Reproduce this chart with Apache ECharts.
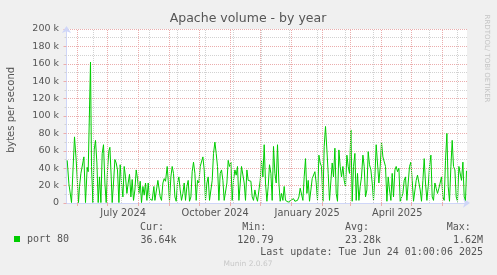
<!DOCTYPE html>
<html><head><meta charset="utf-8">
<script src="https://cdn.jsdelivr.net/npm/echarts@6/dist/echarts.min.js"></script>
<style>html,body{margin:0;padding:0;background:#F0F0F0}#c{width:497px;height:275px}</style>
</head><body><div id="c"></div>
<script>
// ---------- data ----------
const chartTitle = 'Apache volume - by year';
const yAxisTitle = 'bytes per second';
const seriesName = 'port 80';
const startDate = '2024-05-21';          // day 0 of the offsets below
const rangeDays = [-0.5, 400.5];          // visible time window (days from startDate)
// sample times, days since startDate
const dayOffsets = [
 0.7,2.4,5,6.4,8,9.7,10.7,12,13,14.4,15.7,17.4,18.4,19,20.7,21.7,23,24,25,26.4,27.7,29,30.4,31.7,33,34.4,35.7,37,38.4,39.7,
 41,42.4,43.4,44.7,45.7,47,48.4,49.7,51,52.4,53.7,55,56.4,57.7,59,60.4,61.7,63,64.4,65.7,67,68.4,69.7,71,72.4,73.7,75,76.4,77.7,79,
 80.4,81.7,83,84.4,85.7,87.4,88.4,89.7,91.4,92.4,93.7,95,96.4,97.7,99,100.7,101.7,103,104.4,105.7,107,108.4,109.7,111,112.4,113.7,115,116.4,117.7,119,
 120.4,121.7,123,124.4,125.7,127,128.4,129.7,131,132.4,133.7,135,136.4,137.7,139,140.4,141.7,143,144.4,145.7,147,148.4,149.7,151,152.4,153.7,155,156.4,157.7,
 159,160.4,161.7,163,164.4,165.7,167,168.4,169.7,171,172.4,173.7,175,176.4,177.7,179,180.4,181.7,183,184.4,185.7,187,188.4,189.7,191,192.4,193.7,195,196.4,197.7,
 199,200.4,201.7,203,204.4,205.7,207,208.4,209.7,211,212.4,213.7,215,216.4,217.7,219,220.4,221.7,223,224.4,225.7,227,228.4,229.7,231,232.4,233.7,235,236.4,237.7,
 239,240.4,241.7,243,244.4,245.7,247,248.4,249.7,251,252.4,253.7,255,256.4,257.7,259,260.4,261.7,263,264.4,265.7,267,268.4,269.7,271,272.4,273.7,275,276.4,277.7,
 279,280.4,281.7,283,284.4,285.7,287,288.4,289.7,291,292.4,293.7,295,296.4,297.7,299,300.4,301.7,303,304.4,305.7,307,308.4,309.7,311,312.4,313.7,315,316.4,
 317.4,319,320.4,321.7,323,324.4,325.7,327,328.4,329.7,331,332.4,333.7,335,336.4,337.7,339,340.4,341.7,343,344.4,345.7,347,348.4,349.7,351,352.4,353.7,355,356.4,
 357.7,359,360.4,361.7,363,364.4,365.7,367,368.4,369.7,371,372.4,373.7,375,376.4,377.7,379,380.4,381.7,383,384.4,385.7,387,388.4,389.7,391,392.4,393.7,395,396.4,
 397.7,399,400
];
// bytes per second, in thousands
const port80K = [
 49,22,0.5,0.5,76,49,49,0.5,19,34,36,53,55,0.5,41,36,38,162,42,0.5,61,72,46,0.5,30,0.5,57,67,23,0.5,
 38,60,64,30,0.5,23,50,46,38,0.5,44,23,7,42,30,11,23,33,7,27,3,15,38,28,11,25,0.5,19,9,23,
 3,23,5,7,3,19,3,2,26,28,7,3,23,28,25,42,26,2,30,42,34,7,2,23,30,15,3,11,23,3,
 19,26,2,7,36,47,34,3,26,23,42,40,53,38,3,23,30,3,2,26,57,70,57,42,3,34,38,26,3,
 2,23,49,42,47,3,26,38,32,42,3,2,42,44,23,3,38,26,28,25,7,3,15,7,2,3,26,49,30,67,
 23,2,19,44,34,3,65,34,23,67,23,2,11,3,19,3,2,1,2,3,2,5,2,2,3,7,17,15,3,30,
 51,11,26,2,15,28,26,36,23,3,55,46,42,2,65,88,61,34,3,2,46,30,63,11,2,61,42,30,42,26,
 19,55,42,34,84,2,42,57,3,34,3,19,30,55,42,7,15,59,44,38,23,3,30,67,65,23,42,70,53,
 51,42,2,30,15,3,34,7,38,42,36,40,2,3,11,26,30,3,23,42,47,26,2,3,26,32,30,15,2,26,
 51,23,3,19,42,55,7,3,23,17,11,17,15,30,7,3,49,80,19,2,42,72,42,38,7,2,42,40,26,47,
 7,3,37
];
const yMax = 200, yStep = 20;
const monthLabels = [['2024-07-01','July 2024'],['2024-10-01','October 2024'],['2025-01-01','January 2025'],['2025-04-01','April 2025']];
const monthStarts = ['2024-06-01','2024-07-01','2024-08-01','2024-09-01','2024-10-01','2024-11-01','2024-12-01','2025-01-01','2025-02-01','2025-03-01','2025-04-01','2025-05-01','2025-06-01'];
const weekGridStart = '2024-06-17', weekGridEvery = 28;
const statHeads = ['Cur:','Min:','Avg:','Max:'];
const statValues = ['36.64k','120.79','23.28k','1.62M'];
const lastUpdate = 'Last update: Tue Jun 24 01:00:06 2025';
const footer = 'Munin 2.0.67';
const sideText = 'RRDTOOL/ TOBI OETIKER';

// ---------- helpers ----------
const DAY = 86400000;
const dayOf = s => (Date.parse(s + 'T00:00:00Z') - Date.parse(startDate + 'T00:00:00Z')) / DAY;
const monthDays = monthStarts.map(dayOf);
const weekDays = [];
for (let d = dayOf(weekGridStart); d < rangeDays[1]; d += weekGridEvery) weekDays.push(d);
const labelPos = monthLabels.map(m => dayOf(m[0]) + 15.7);
const labelText = {};
labelPos.forEach((p, i) => labelText[p.toFixed(2)] = monthLabels[i][1]);

const FONT = '"DejaVu Sans", sans-serif';
const MONO = '"DejaVu Sans Mono", monospace';
const TXT = '#555555';
const MGRID = '#ebadad';
const GRID = '#d2d2d2';
const AXIS = '#CFD6F8';

const chart = echarts.init(document.getElementById('c'), null, {renderer: 'canvas'});
const gridLines = [];
weekDays.forEach(d => gridLines.push({xAxis: d, lineStyle: {color: GRID, type: [1, 1], width: 1}}));
monthDays.forEach(d => gridLines.push({xAxis: d, lineStyle: {color: MGRID, type: [1, 1], width: 1}}));

const graphics = [
  {type: 'text', x: 248, y: 19, style: {text: chartTitle, font: '12.5px ' + FONT, fill: TXT, align: 'center', verticalAlign: 'middle'}},
  {type: 'text', x: 11, y: 110, rotation: Math.PI / 2, style: {text: yAxisTitle, font: '10px ' + FONT, fill: TXT, align: 'center', verticalAlign: 'middle'}},
  {type: 'text', x: 486.5, y: 58.5, rotation: -Math.PI / 2, style: {text: sideText, font: '7px ' + FONT, fill: '#c4c4c4', align: 'center', verticalAlign: 'middle'}},
  {type: 'text', x: 248, y: 264, style: {text: footer, font: '7.5px ' + FONT, fill: '#c8c8c8', align: 'center', verticalAlign: 'middle'}},
  {type: 'text', x: 483, y: 252, style: {text: lastUpdate, font: '10px ' + MONO, fill: TXT, align: 'right', verticalAlign: 'middle'}}
];
const headX = [140, 242.3, 345, 446.7];
statHeads.forEach((t, i) => graphics.push({type: 'text', x: headX[i], y: 227.5, style: {text: t, font: '10px ' + MONO, fill: TXT, align: 'left', verticalAlign: 'middle'}}));
const valX = [140.5, 237.3, 345, 483];
const valAlign = ['left', 'left', 'left', 'right'];
statValues.forEach((t, i) => graphics.push({type: 'text', x: valX[i], y: 240, style: {text: t, font: '10px ' + MONO, fill: TXT, align: valAlign[i], verticalAlign: 'middle'}}));

chart.setOption({
  animation: false,
  backgroundColor: '#F0F0F0',
  grid: {left: 66, top: 29, width: 401, height: 174, show: true, backgroundColor: '#FFFFFF', borderWidth: 0, containLabel: false, outerBoundsMode: 'none'},
  legend: {
    data: [{name: seriesName, icon: 'rect'}], left: 14, top: 234, itemWidth: 6, itemHeight: 6, padding: 0,
    textStyle: {fontFamily: MONO, fontSize: 10, color: TXT, padding: [0, 0, 0, 2]}
  },
  xAxis: {
    type: 'value', min: rangeDays[0], max: rangeDays[1],
    axisLine: {show: true, lineStyle: {color: AXIS, width: 1}, symbol: ['none', 'arrow'], symbolSize: [7, 7], symbolOffset: [0, 3]},
    axisTick: {show: true, customValues: monthDays, length: 3, lineStyle: {color: MGRID}},
    axisLabel: {
      customValues: labelPos, margin: 5, color: TXT, fontFamily: FONT, fontSize: 9.8,
      formatter: v => labelText[v.toFixed(2)] || ''
    },
    splitLine: {show: false}
  },
  yAxis: {
    type: 'value', min: 0, max: yMax, interval: yStep,
    axisLine: {show: true, lineStyle: {color: AXIS, width: 1}, symbol: ['none', 'arrow'], symbolSize: [7, 7], symbolOffset: [0, 3]},
    axisTick: {show: true, length: 3, lineStyle: {color: MGRID}},
    minorTick: {show: true, splitNumber: 2, length: 2, lineStyle: {color: GRID}},
    axisLabel: {margin: 7, color: TXT, fontFamily: FONT, fontSize: 9.5, formatter: v => v === 0 ? '0' : v + ' k'},
    splitLine: {show: true, lineStyle: {color: MGRID, type: [1, 1], width: 1}},
    minorSplitLine: {show: true, lineStyle: {color: GRID, type: [1, 1], width: 1}}
  },
  series: [
    {type: 'line', name: '__grid', data: [], z: 1, silent: true,
     markLine: {silent: true, symbol: 'none', animation: false, label: {show: false}, emphasis: {disabled: true}, data: gridLines}},
    {type: 'line', name: seriesName, z: 3, showSymbol: false, symbol: 'none',
     data: dayOffsets.map((d, i) => [d, port80K[i]]),
     lineStyle: {color: '#00CC00', width: 1}, itemStyle: {color: '#00CC00'}}
  ],
  graphic: graphics
});
</script></body></html>
